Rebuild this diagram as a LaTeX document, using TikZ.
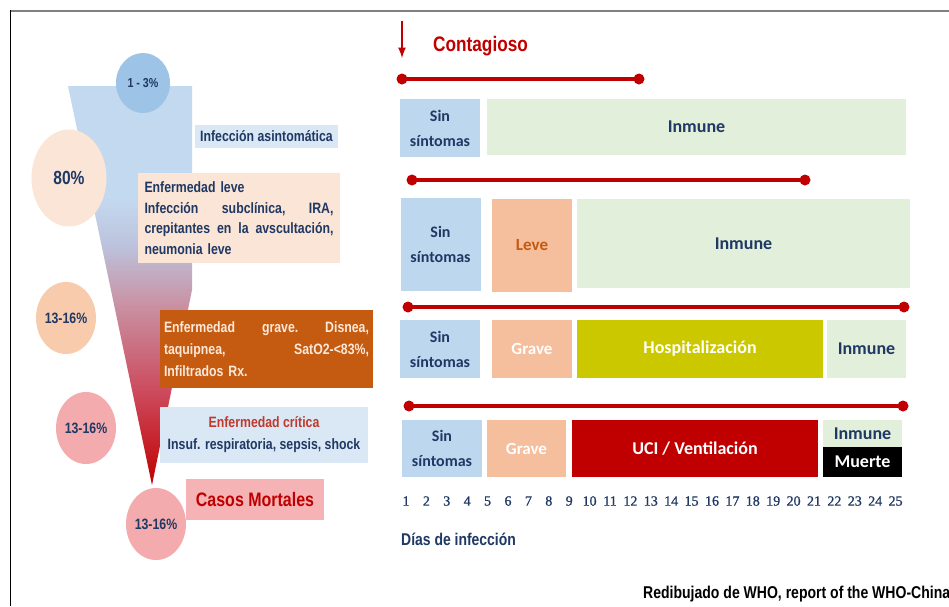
\documentclass[tikz,border=0pt]{standalone}
\usepackage{fontspec}
\newfontfamily\narrowfont[FakeStretch=0.82]{Liberation Sans}
\newfontfamily\calfont{Carlito}
\newfontfamily\numfont[FakeBold=1]{Liberation Serif}
\usetikzlibrary{shapes.geometric}

\definecolor{navy}{HTML}{1F3864}
\definecolor{ured}{HTML}{C00000}
\definecolor{sincol}{HTML}{BDD7EE}
\definecolor{inmcol}{HTML}{E2EFDA}
\definecolor{levecol}{HTML}{F5BE9C}
\definecolor{hospcol}{HTML}{CCC800}
\definecolor{peachlt}{HTML}{FBE5D6}
\definecolor{peach}{HTML}{F8CBAD}
\definecolor{pinkc}{HTML}{F4ABAD}
\definecolor{pinkbox}{HTML}{F5B3B5}
\definecolor{bluelt}{HTML}{DAE8F5}
\definecolor{bluec}{HTML}{9DC3E6}
\definecolor{gravecol}{HTML}{C55A11}
\definecolor{critred}{HTML}{C0392B}
\definecolor{cream}{HTML}{FDE9D9}
\definecolor{fnlblue}{HTML}{C3D9EF}
\definecolor{fnllav}{HTML}{BCC2DC}
\definecolor{fnlmauve}{HTML}{C994A6}
\definecolor{fnlrose}{HTML}{CC4658}
\definecolor{fnlred}{HTML}{C00000}

\pgfdeclareverticalshading{funnelshade}{100bp}{color(0bp)=(fnlred); color(25bp)=(fnlred); color(36bp)=(fnlrose); color(48bp)=(fnlmauve); color(55bp)=(fnllav); color(61bp)=(fnlblue); color(100bp)=(fnlblue)}

\tikzset{>=latex,
  pct/.style={ellipse, inner sep=0pt, text=navy, font=\narrowfont\bfseries\fontsize{15}{18}\selectfont},
  lbox/.style={rectangle, inner sep=0pt, text=navy, font=\narrowfont\bfseries\fontsize{15}{20.5}\selectfont},
  bar/.style={rectangle, inner sep=0pt, align=center, text=navy, font=\calfont\bfseries\fontsize{18}{22}\selectfont},
  sinbar/.style={bar, fill=sincol, minimum width=80pt, font=\calfont\bfseries\fontsize{16}{25}\selectfont},
  cline/.style={ured, line width=3.5pt},
  daynum/.style={inner sep=0pt, text=navy, font=\numfont\fontsize{14}{16}\selectfont},
}

\begin{document}
\begin{tikzpicture}[x=1pt, y=-1pt]
  \useasboundingbox (0,0) rectangle (949,606);
  \fill[white] (0,0) rectangle (949,606);
  \draw[gray, line width=2pt] (10,10.5) -- (949,10.5);
  \draw[black, line width=1pt] (10,10) -- (10,606);

  \shade[shading=funnelshade] (68,86) -- (192,86) -- (192,290) -- (152,485) -- cycle;

  \node[pct, fill=bluec, minimum width=54pt, minimum height=60pt, font=\narrowfont\bfseries\fontsize{13}{15}\selectfont] (p1) at (143,83) {1 - 3\%};
  \node[pct, fill=peachlt, minimum width=75pt, minimum height=97pt, font=\narrowfont\bfseries\fontsize{19}{22}\selectfont] (p2) at (69,178) {80\%};
  \node[pct, fill=peach, minimum width=56pt, minimum height=72pt] (p3) at (66,318) {13-16\%};
  \node[pct, fill=pinkc, minimum width=56pt, minimum height=72pt] (p4) at (86,428) {13-16\%};
  \node[pct, fill=pinkc, minimum width=56pt, minimum height=72pt] (p5) at (156,524) {13-16\%};

  \node[lbox, fill=bluelt, minimum width=143pt, minimum height=23pt] (asin) at (266.5,136.5) {Infección asintomática};
  \node[lbox, fill=peachlt, minimum width=202pt, minimum height=90pt, text width=189pt, align=left] (leve) at (239,218)
    {Enfermedad leve\\ Infección\hfill subclínica,\hfill IRA,\\ crepitantes\hfill en\hfill la\hfill avscultación,\\ neumonia leve};
  \node[lbox, fill=gravecol, text=cream, minimum width=213pt, minimum height=78pt, text width=205pt, align=left, font=\narrowfont\bfseries\fontsize{15}{22}\selectfont] (grave) at (266.5,349)
    {Enfermedad\hfill grave.\hfill Disnea,\\ taquipnea,\hfill SatO2-<83\%,\\ Infiltrados Rx.};
  \node[lbox, fill=bluelt, minimum width=208pt, minimum height=56pt, align=center, font=\narrowfont\bfseries\fontsize{15}{22}\selectfont] (crit) at (264,435)
    {\textcolor{critred}{Enfermedad crítica}\\ Insuf. respiratoria, sepsis, shock};
  \node[lbox, fill=pinkbox, text=ured, minimum width=138pt, minimum height=41pt, font=\narrowfont\bfseries\fontsize{19.5}{23}\selectfont] (mort) at (255,499.5) {Casos Mortales};

  \coordinate (ar0) at (402,21);
  \coordinate (ar1) at (402,58);
  \draw[->, ured, line width=2.5pt] (ar0) -- (ar1);
  \node[inner sep=0pt, anchor=west, text=ured, font=\narrowfont\bfseries\fontsize{21}{24}\selectfont] (contag) at (433,46) {Contagioso};

  \foreach \i/\xa/\xb/\y in {1/402/639/79, 2/412/805/180, 3/408/904/307, 4/409/903/406} {%
    \coordinate (ca\i) at (\xa,\y);
    \coordinate (cb\i) at (\xb,\y);
    \draw[cline] (ca\i) -- (cb\i);
    \fill[ured] (ca\i) circle (5.5) (cb\i) circle (5.5);
  }

  \foreach \i/\x/\y/\h in {1/440/128/58, 2/440.5/244.5/93, 3/440/349/58, 4/442/448.5/57} {%
    \node[sinbar, minimum height=\h pt] (sin\i) at (\x,\y) {Sin\\síntomas};
  }

  \node[bar, fill=inmcol, minimum width=419pt, minimum height=56pt] (inm1) at (696.5,127) {Inmune};
  \node[bar, fill=levecol, text=gravecol, minimum width=80pt, minimum height=93pt, font=\calfont\bfseries\fontsize{17}{20}\selectfont] (leve2) at (532,245.5) {Leve};
  \node[bar, fill=inmcol, minimum width=333pt, minimum height=89pt] (inm2) at (743.5,243.5) {Inmune};
  \node[bar, fill=levecol, text=white, minimum width=80pt, minimum height=58pt, font=\calfont\bfseries\fontsize{17}{20}\selectfont] (grave3) at (532,349) {Grave};
  \node[bar, fill=hospcol, text=white, minimum width=246pt, minimum height=58pt] (hosp) at (700,349) {Hospitalización};
  \node[bar, fill=inmcol, minimum width=79pt, minimum height=58pt] (inm3) at (866.5,349) {Inmune};
  \node[bar, fill=levecol, text=white, minimum width=79pt, minimum height=57pt, font=\calfont\bfseries\fontsize{17}{20}\selectfont] (grave4) at (526.5,448.5) {Grave};
  \node[bar, fill=ured, text=white, minimum width=246pt, minimum height=57pt] (uci) at (695,448.5) {UCI / Ventilación};
  \node[bar, fill=inmcol, minimum width=79pt, minimum height=27pt] (inm4) at (862.5,433.5) {Inmune};
  \node[bar, fill=black, text=white, minimum width=79pt, minimum height=30pt] (muerte) at (862.5,462) {Muerte};

  \foreach \n in {1,...,25} { \node[daynum] (d\n) at ({406+20.4*(\n-1)},501) {\n}; }

  \node[inner sep=0pt, anchor=west, text=navy, font=\narrowfont\bfseries\fontsize{17}{20}\selectfont] (dias) at (401,539) {Días de infección};
  \node[inner sep=0pt, anchor=west, text=black, font=\narrowfont\bfseries\fontsize{17.1}{20}\selectfont] (ref) at (643,594) {Redibujado de WHO, report of the WHO-China};
\end{tikzpicture}
\end{document}
